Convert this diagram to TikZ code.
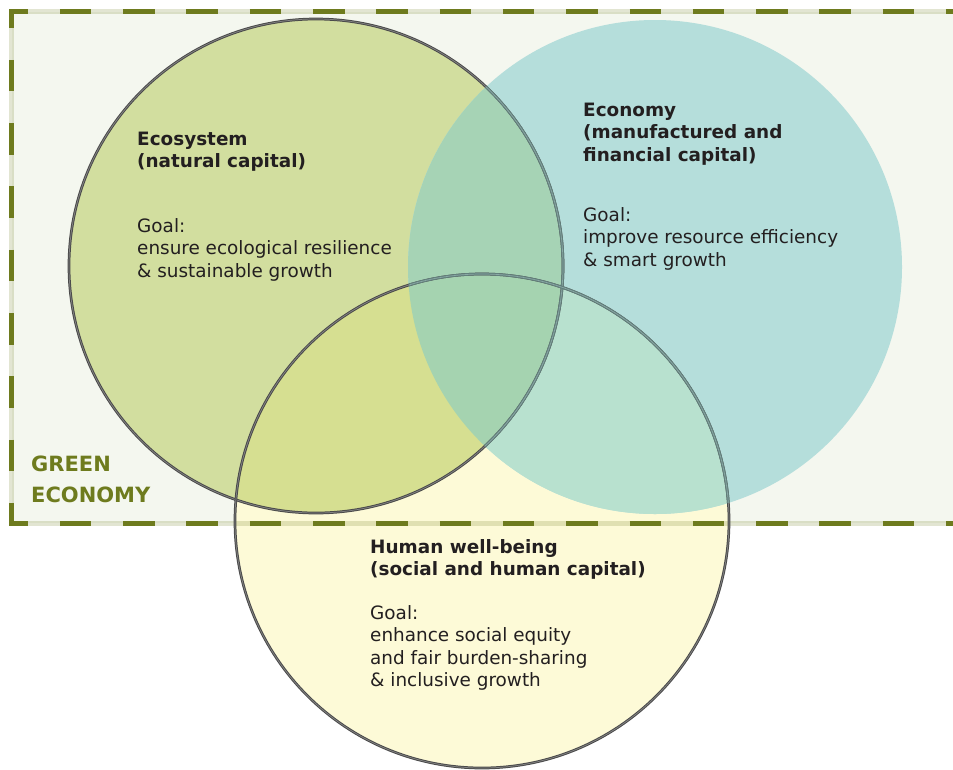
\documentclass[tikz,border=0pt]{standalone}
\usepackage{fontspec}
\setmainfont{DejaVu Sans}
\definecolor{framebg}{HTML}{F4F7EF}
\definecolor{ecocol}{HTML}{D2DE9F}
\definecolor{econcol}{HTML}{B5DEDB}
\definecolor{humcol}{HTML}{FDFAD7}
\definecolor{ecoecon}{HTML}{A6D3B5}
\definecolor{ecohum}{HTML}{D6DF91}
\definecolor{econhum}{HTML}{B8E1CF}
\definecolor{allcol}{HTML}{A5D3B0}
\definecolor{olive}{HTML}{6E7B1E}
\definecolor{txt}{HTML}{231F20}
\definecolor{ringdark}{HTML}{4A4A4A}
\definecolor{ringlight}{HTML}{858585}
\definecolor{ringbd}{HTML}{627F7C}
\definecolor{ringbl}{HTML}{8AA9A5}
\tikzset{
  ring/.style={draw=ringdark, double=ringlight, double distance=0.7pt, line width=1pt},
  ringb/.style={draw=ringbd, double=ringbl, double distance=0.7pt, line width=1pt},
  gapline/.style={draw=olive, draw opacity=0.2, line width=5pt},
  dashline/.style={draw=olive, line width=5pt, dash pattern=on 31.5pt off 31.8pt, dash phase=12.5pt},
  body/.style={inner sep=0pt, anchor=base west, text=txt, font=\fontsize{18.4}{22.5}\selectfont},
  head/.style={body, font=\fontsize{18.4}{22.5}\selectfont\bfseries},
  green/.style={inner sep=0pt, anchor=base west, text=olive, font=\fontsize{21}{31}\selectfont\bfseries}
}
\begin{document}
\begin{tikzpicture}[x=1pt,y=-1pt]
\useasboundingbox (0,0) rectangle (953,769);
\clip (0,0) rectangle (953,769);
\coordinate (eco) at (316,266);
\coordinate (econ) at (655,267);
\coordinate (hum) at (482,521);
% frame background
\fill[framebg] (11.5,11.5) rectangle (965,523);
% circle fills
\fill[ecocol] (eco) circle[radius=247pt];
\fill[humcol] (hum) circle[radius=247pt];
\fill[econcol] (econ) circle[radius=247pt];
\begin{scope}
  \clip (econ) circle[radius=247pt];
  \fill[econhum] (hum) circle[radius=247pt];
\end{scope}
\begin{scope}
  \clip (eco) circle[radius=247pt];
  \fill[ecoecon] (econ) circle[radius=247pt];
  \fill[ecohum] (hum) circle[radius=247pt];
  \clip (econ) circle[radius=247pt];
  \fill[allcol] (hum) circle[radius=247pt];
\end{scope}
% dashed frame
\coordinate (tl) at (9,11.5);
\coordinate (tr) at (965,11.5);
\coordinate (lt) at (11.5,9);
\coordinate (lb) at (11.5,525.5);
\coordinate (bl) at (9,523);
\coordinate (br) at (965,523);
\draw[gapline] (tl) -- (tr);
\draw[gapline] (lt) -- (lb);
\draw[gapline] (bl) -- (br);
\draw[dashline] (tl) -- (tr);
\draw[dashline] (lt) -- (lb);
\draw[dashline] (bl) -- (br);
% circle outlines
\draw[ring] (eco) circle[radius=247pt];
\draw[ring] (hum) circle[radius=247pt];
\begin{scope}
  \clip (econ) circle[radius=247pt];
  \draw[ringb] (eco) circle[radius=247pt];
  \draw[ringb] (hum) circle[radius=247pt];
\end{scope}
% texts: ecosystem
\node[head] (e1) at (137,145) {Ecosystem};
\node[head] (e2) at (137,167.5) {(natural capital)};
\node[body] (e3) at (137,232) {Goal:};
\node[body] (e4) at (137,254.5) {ensure ecological resilience};
\node[body] (e5) at (137,277) {\& sustainable growth};
% economy
\node[head] (c1) at (583,116) {Economy};
\node[head] (c2) at (583,138.5) {(manufactured and};
\node[head] (c3) at (583,161) {financial capital)};
\node[body] (c4) at (583,221) {Goal:};
\node[body] (c5) at (583,243.5) {improve resource efficiency};
\node[body] (c6) at (583,266) {\& smart growth};
% human
\node[head] (h1) at (370,553) {Human well-being};
\node[head] (h2) at (370,575.5) {(social and human capital)};
\node[body] (h3) at (370,619) {Goal:};
\node[body] (h4) at (370,641.5) {enhance social equity};
\node[body] (h5) at (370,664) {and fair burden-sharing};
\node[body] (h6) at (370,686) {\& inclusive growth};
% green economy
\node[green] (g1) at (31,471) {GREEN};
\node[green] (g2) at (31,502) {ECONOMY};
\end{tikzpicture}
\end{document}
